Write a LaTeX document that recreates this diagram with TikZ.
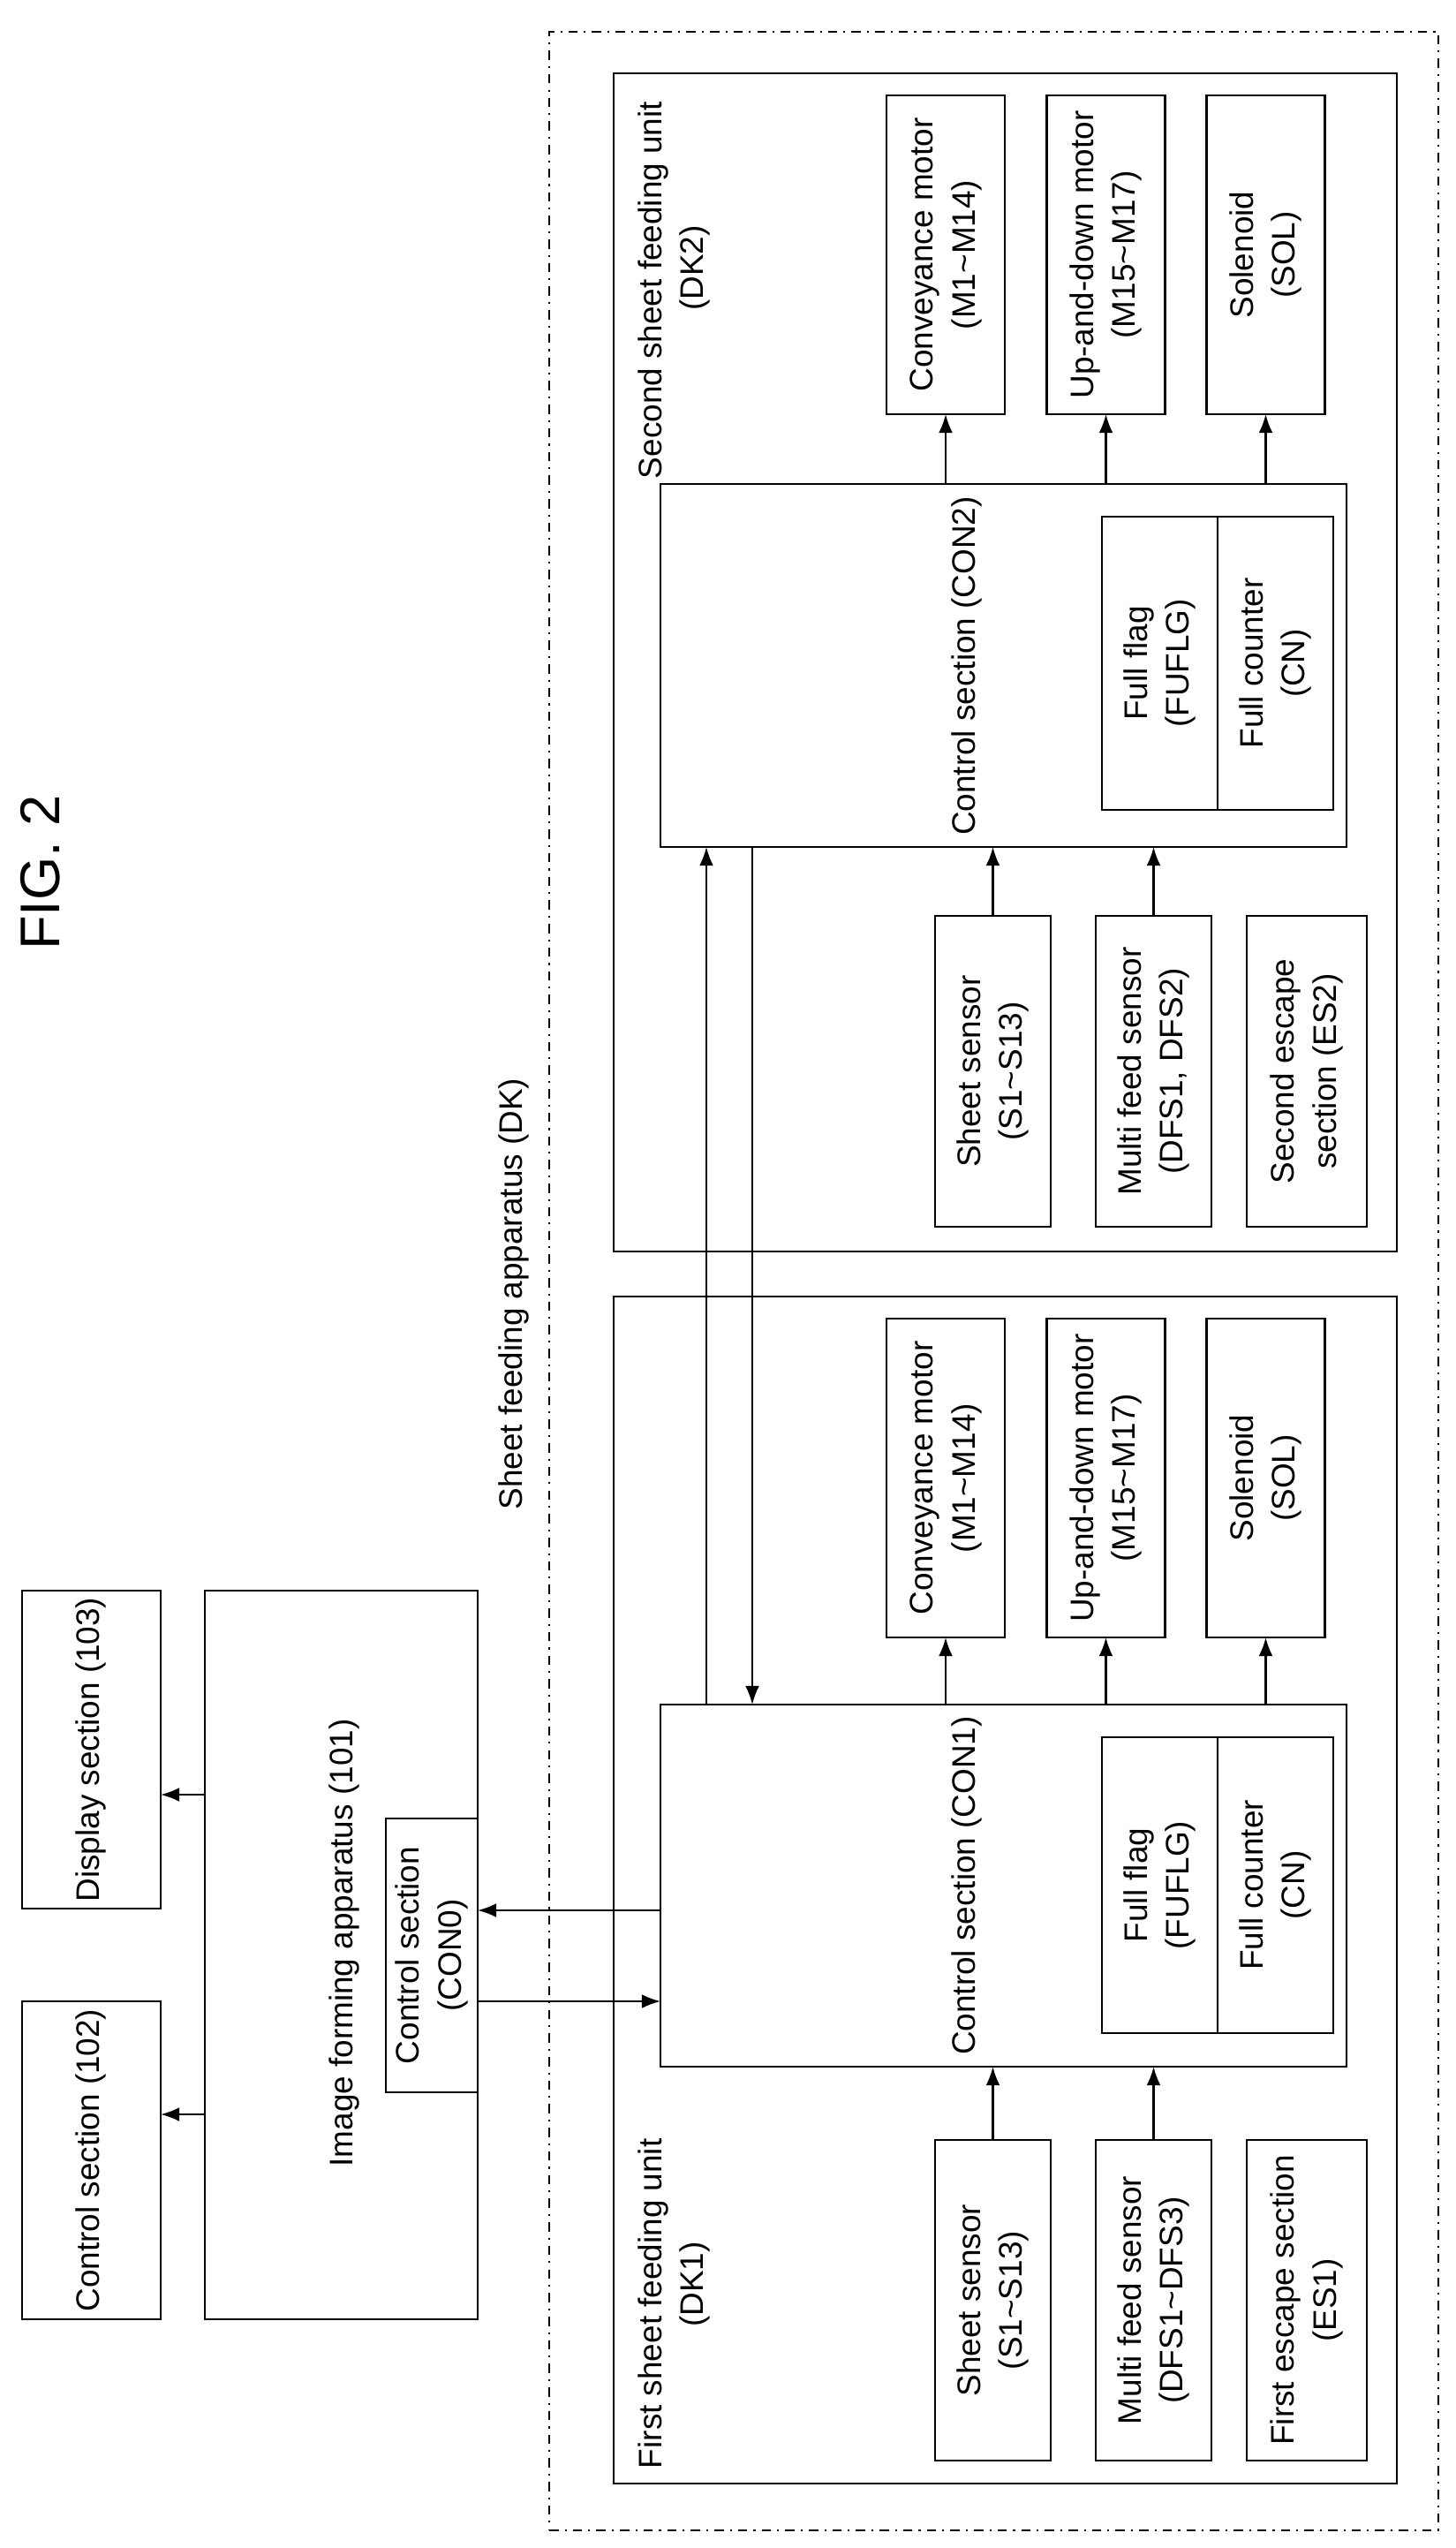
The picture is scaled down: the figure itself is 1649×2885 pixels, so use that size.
\documentclass[tikz,border=0pt]{standalone}
\usepackage{fontspec}
\setmainfont{Liberation Sans}
\usetikzlibrary{arrows.meta}
\newcommand{\rt}[1]{\rotatebox{90}{\begin{tabular}{@{}c@{}}#1\end{tabular}}}
\begin{document}
\begin{tikzpicture}[x=0.01cm,y=-0.01cm,
  font=\fontsize{10.5}{13.5}\selectfont,
  every node/.style={inner sep=0pt, outer sep=0pt},
  box/.style={draw, line width=0.6pt, align=center},
  arr/.style={line width=0.6pt, -{Latex[length=6pt,width=4.5pt]}},
  ln/.style={line width=0.6pt}]
\useasboundingbox (0,0) rectangle (1649,2885);
\node (fig) at (46,988) {\rotatebox{90}{\fontsize{18}{20}\selectfont FIG. 2}};
\node[box, minimum width=157*0.01cm, minimum height=360*0.01cm] (disp) at (103.5,1981) {\rt{Display section (103)}};
\node[box, minimum width=157*0.01cm, minimum height=360*0.01cm] (ctl) at (103.5,2446) {\rt{Control section (102)}};
\node[box, minimum width=309*0.01cm, minimum height=825*0.01cm] (ifa) at (386.5,2213.5) {};
\node (ifal) at (390,2200) {\rt{Image forming apparatus (101)}};
\node[box, minimum width=104*0.01cm, minimum height=310*0.01cm] (con0) at (489,2214) {\rt{Control section\\(CON0)}};
\node[draw, line width=0.6pt, dash dot, minimum width=1007*0.01cm, minimum height=2829*0.01cm] (dk) at (1125.5,1450.5) {};
\node (dkl) at (582,1465) {\rt{Sheet feeding apparatus (DK)}};
% DK2
\node[box, minimum width=887*0.01cm, minimum height=1334*0.01cm] (dk2) at (1138.5,750) {};
\node[anchor=south west] (dk2l) at (716,542) {\rotatebox{90}{\begin{tabular}{@{}l@{}}Second sheet feeding unit\\\hspace*{1.9cm}(DK2)\end{tabular}}};
\node[box, minimum width=777*0.01cm, minimum height=411*0.01cm] (con2) at (1136.5,753.5) {};
\node (con2l) at (1095,754) {\rt{Control section (CON2)}};
\node[box, minimum width=131*0.01cm, minimum height=332*0.01cm] (flag2) at (1313.5,751) {\rt{Full flag\\(FUFLG)}};
\node[box, minimum width=131*0.01cm, minimum height=332*0.01cm] (cn2) at (1444.5,751) {\rt{Full counter\\(CN)}};
\node[box, minimum width=134*0.01cm, minimum height=361*0.01cm] (mA2) at (1071,288.5) {\rt{Conveyance motor\\(M1\textasciitilde M14)}};
\node[box, minimum width=134*0.01cm, minimum height=361*0.01cm] (mB2) at (1252.5,288.5) {\rt{Up-and-down motor\\(M15\textasciitilde M17)}};
\node[box, minimum width=134*0.01cm, minimum height=361*0.01cm] (mC2) at (1433.5,288.5) {\rt{Solenoid\\(SOL)}};
\node[box, minimum width=131*0.01cm, minimum height=352*0.01cm] (sA2) at (1124.5,1213) {\rt{Sheet sensor\\(S1\textasciitilde S13)}};
\node[box, minimum width=131*0.01cm, minimum height=352*0.01cm] (sB2) at (1306.5,1213) {\rt{Multi feed sensor\\(DFS1, DFS2)}};
\node[box, minimum width=136*0.01cm, minimum height=352*0.01cm] (sC2) at (1480,1213) {\rt{Second escape\\section (ES2)}};
% DK1
\node[box, minimum width=887*0.01cm, minimum height=1344*0.01cm] (dk1) at (1138.5,2140) {};
\node[anchor=south west] (dk1l) at (716,2795) {\rotatebox{90}{\begin{tabular}{@{}l@{}}First sheet feeding unit\\\hspace*{1.6cm}(DK1)\end{tabular}}};
\node[box, minimum width=777*0.01cm, minimum height=410*0.01cm] (con1) at (1136.5,2135) {};
\node (con1l) at (1095,2135) {\rt{Control section (CON1)}};
\node[box, minimum width=131*0.01cm, minimum height=335*0.01cm] (flag1) at (1313.5,2134.5) {\rt{Full flag\\(FUFLG)}};
\node[box, minimum width=131*0.01cm, minimum height=335*0.01cm] (cn1) at (1444.5,2134.5) {\rt{Full counter\\(CN)}};
\node[box, minimum width=134*0.01cm, minimum height=361*0.01cm] (mA1) at (1071,1673.5) {\rt{Conveyance motor\\(M1\textasciitilde M14)}};
\node[box, minimum width=134*0.01cm, minimum height=361*0.01cm] (mB1) at (1252.5,1673.5) {\rt{Up-and-down motor\\(M15\textasciitilde M17)}};
\node[box, minimum width=134*0.01cm, minimum height=361*0.01cm] (mC1) at (1433.5,1673.5) {\rt{Solenoid\\(SOL)}};
\node[box, minimum width=131*0.01cm, minimum height=363*0.01cm] (sA1) at (1124.5,2604.5) {\rt{Sheet sensor\\(S1\textasciitilde S13)}};
\node[box, minimum width=131*0.01cm, minimum height=363*0.01cm] (sB1) at (1306.5,2604.5) {\rt{Multi feed sensor\\(DFS1\textasciitilde DFS3)}};
\node[box, minimum width=136*0.01cm, minimum height=363*0.01cm] (sC1) at (1480,2604.5) {\rt{First escape section\\(ES1)}};
% connectors
\draw[arr] (ifa.west |- 0,2032) -- (disp.east |- 0,2032);
\draw[arr] (ifa.west |- 0,2394) -- (ctl.east |- 0,2394);
\draw[arr] (con1.west |- 0,2163) -- (con0.east |- 0,2163);
\draw[arr] (con0.east |- 0,2266) -- (con1.west |- 0,2266);
\coordinate (va) at (800,0);
\coordinate (vb) at (852,0);
\draw[arr] (con1.north -| va) -- (con2.south -| va);
\draw[arr] (con2.south -| vb) -- (con1.north -| vb);
\foreach \c in {2,1}{
  \foreach \m in {mA,mB,mC}{\draw[arr] (con\c.north -| \m\c) -- (\m\c.south);}
  \foreach \s in {sA,sB}{\draw[arr] (\s\c.north) -- (con\c.south -| \s\c);}
}
\end{tikzpicture}
\end{document}
